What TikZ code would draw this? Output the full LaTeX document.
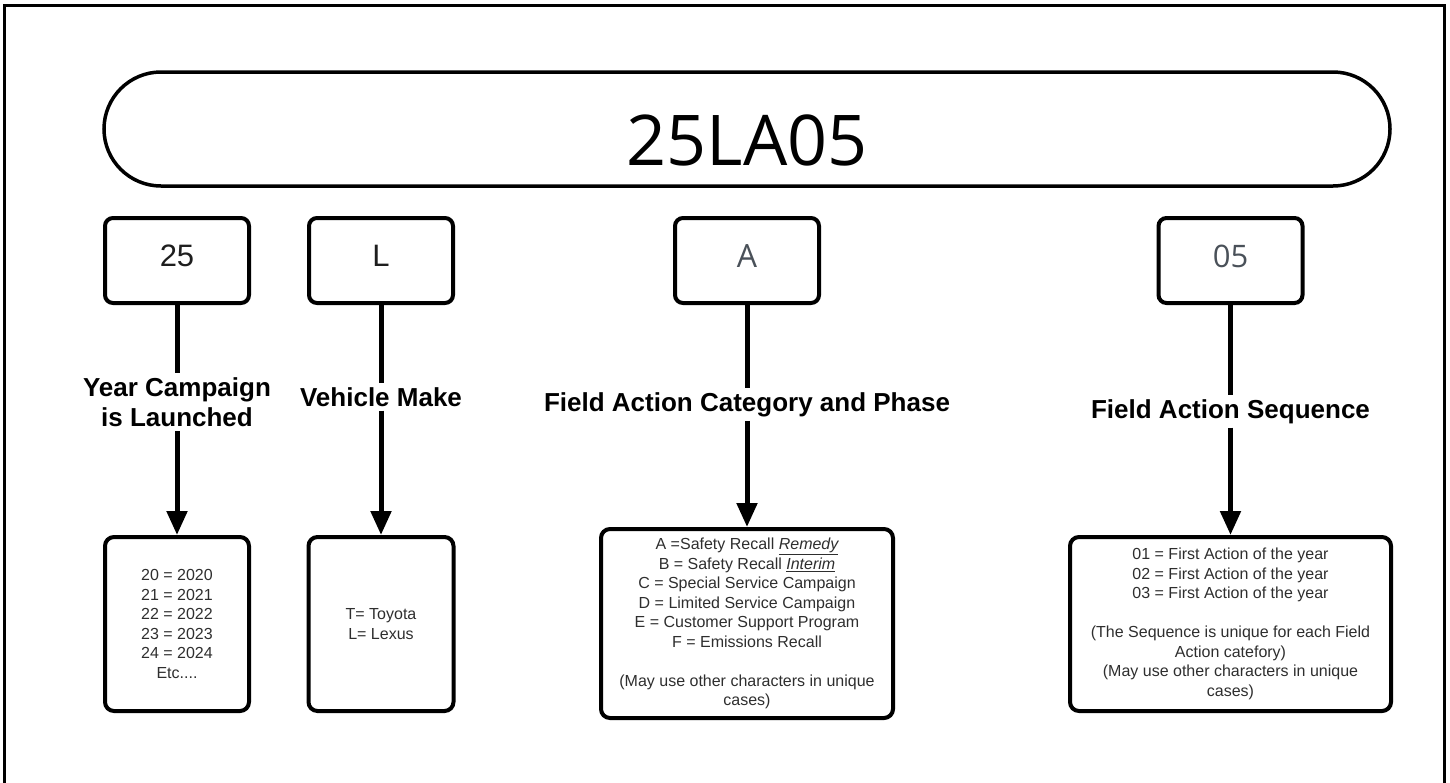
\documentclass[tikz,border=0pt]{standalone}
\usepackage{fontspec}
\setmainfont{Liberation Sans}
\newfontfamily\titlefont{Open Sans}
\usetikzlibrary{arrows.meta}
\definecolor{txt}{HTML}{2E2E2E}
\definecolor{codegray}{HTML}{4A5159}
\definecolor{codeblack}{HTML}{1E1E1E}
\begin{document}
\begin{tikzpicture}[x=1pt,y=-1pt,
  topbox/.style={draw, line width=4pt, rounded corners=8pt, minimum width=144pt, minimum height=85pt, inner sep=0pt, text depth=9pt},
  infobox/.style={draw, line width=4pt, rounded corners=9pt, inner sep=0pt, align=center, text=txt, font=\fontsize{16}{19.5}\selectfont},
  lbl/.style={font=\bfseries\fontsize{26}{30.5}\selectfont, align=center, inner xsep=2pt, inner ysep=4pt, anchor=north, text=black},
  conn/.style={line width=5pt},
  arr/.style={line width=5pt, -{Triangle[length=24pt,width=20pt]}}]
\useasboundingbox (0,0) rectangle (1450,782);
% outer frame
\draw[line width=3pt] (4,5) rectangle (1444,800);
% title pill
\node[draw, line width=3.5pt, rounded corners=57pt, minimum width=1286pt, minimum height=114pt, inner sep=0pt,
      font=\titlefont\fontsize{70}{70}\selectfont, text height=72pt, text depth=0pt] (code) at (747,129) {25LA05};
% top boxes
\node[topbox, font=\fontsize{31}{31}\selectfont, text=codeblack] (t1) at (177,260.5) {25};
\node[topbox, font=\fontsize{31}{31}\selectfont, text=codeblack] (t2) at (381,260.5) {L};
\node[topbox, font=\titlefont\fontsize{32}{32}\selectfont, text=codegray] (t3) at (747,260.5) {A};
\node[topbox, font=\titlefont\fontsize{31}{31}\selectfont, text=codegray] (t4) at (1230.5,260.5) {05};
% labels
\node[lbl] (l1) at (177,373) {Year Campaign\\is Launched};
\node[lbl] (l2) at (381,383) {Vehicle Make};
\node[lbl] (l3) at (747,388) {Field Action Category and Phase};
\node[lbl] (l4) at (1230.5,395) {Field Action Sequence};
% bottom boxes
\node[infobox, minimum width=144pt, minimum height=174pt] (c1) at (177,624)
  {20 = 2020\\21 = 2021\\22 = 2022\\23 = 2023\\24 = 2024\\Etc....};
\node[infobox, minimum width=145pt, minimum height=174pt] (c2) at (381,624)
  {T= Toyota\\L= Lexus};
\node[infobox, minimum width=292pt, minimum height=189pt] (c3) at (747,623.5)
  {A =Safety Recall \underline{\itshape Remedy}\\B = Safety Recall \underline{\itshape Interim}\\C = Special Service Campaign\\D = Limited Service Campaign\\E = Customer Support Program\\F = Emissions Recall\\[19.5pt](May use other characters in unique\\cases)};
\node[infobox, minimum width=321pt, minimum height=174pt] (c4) at (1230.5,624)
  {01 = First Action of the year\\02 = First Action of the year\\03 = First Action of the year\\[19.5pt](The Sequence is unique for each Field\\Action catefory)\\(May use other characters in unique\\cases)};
% connectors
\draw[conn] (t1.south) -- (l1.north);
\draw[arr] (l1.south) -- (c1.north);
\draw[conn] (t2.south) -- (l2.north);
\draw[arr] (l2.south) -- (c2.north);
\draw[conn] (t3.south) -- (l3.north);
\draw[arr] (l3.south) -- (c3.north);
\draw[conn] (t4.south) -- (l4.north);
\draw[arr] (l4.south) -- (c4.north);
\end{tikzpicture}
\end{document}
